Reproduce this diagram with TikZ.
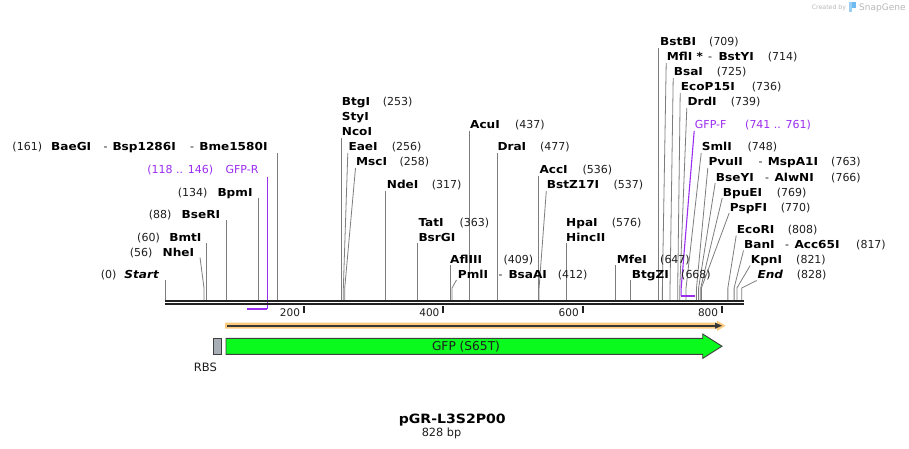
\documentclass[tikz,border=0pt]{standalone}
\usepackage{fontspec}
\setmainfont{DejaVu Sans}
\newfontfamily\wide[FakeStretch=1.1]{DejaVu Sans}
\definecolor{lin}{RGB}{125,125,125}
\definecolor{prm}{RGB}{155,45,240}
\definecolor{gfp}{RGB}{10,250,30}
\definecolor{org}{RGB}{252,202,125}
\definecolor{rbs}{RGB}{168,174,182}
\definecolor{barc}{RGB}{34,34,34}
\definecolor{txt}{RGB}{30,30,30}
\definecolor{sg}{RGB}{185,185,185}
\definecolor{sgb}{RGB}{110,185,240}
\pgfmathdeclarefunction{bp}{1}{\pgfmathparse{165+0.6966*#1}}
\tikzset{
  nm/.style={anchor=base west, inner sep=0pt, text=black, font=\wide\bfseries\fontsize{11}{13}\selectfont},
  nmit/.style={nm, font=\wide\bfseries\itshape\fontsize{11}{13}\selectfont},
  num/.style={anchor=base west, inner sep=0pt, text=txt, font=\fontsize{11}{13}\selectfont},
  pnm/.style={anchor=base west, inner sep=0pt, text=prm, font=\fontsize{11}{13}\selectfont},
  site/.style={draw=lin, line width=0.8pt},
  psite/.style={draw=prm, line width=1.1pt},
  tick/.style={draw=barc, line width=1.8pt},
  ticklab/.style={anchor=base east, inner sep=0pt, text=txt, font=\fontsize{10.5}{12}\selectfont}
}
\begin{document}
\begin{tikzpicture}[x=1pt,y=-1pt]
\useasboundingbox (0,0) rectangle (909,449);
\fill[white] (0,0) rectangle (909,449);

% ---- site lines ----
% left side
\draw[site] ({bp(0)},280) -- ({bp(0)},300.3);
\draw[site] (200,257.5) -- ({bp(56)},288) -- ({bp(56)},300.3);
\draw[site] ({bp(60)},243) -- ({bp(60)},300.3);
\draw[site] ({bp(88)},220) -- ({bp(88)},300.3);
\draw[site] ({bp(134)},198) -- ({bp(134)},300.3);
\draw[site] ({bp(161)},153) -- ({bp(161)},300.3);
% right side
\draw[site] ({bp(253)},138) -- ({bp(253)},300.3);
\draw[site] (347.8,153) -- ({bp(256)},288) -- ({bp(256)},300.3);
\draw[site] (355.5,168) -- ({bp(258)},288) -- ({bp(258)},300.3);
\draw[site] ({bp(317)},191) -- ({bp(317)},300.3);
\draw[site] ({bp(363)},243) -- ({bp(363)},300.3);
\draw[site] ({bp(437)},131) -- ({bp(437)},300.3);
\draw[site] ({bp(477)},153) -- ({bp(477)},300.3);
\draw[site] ({bp(409)},265) -- ({bp(409)},300.3);
\draw[site] (456.5,280) -- ({bp(412)},288) -- ({bp(412)},300.3);
\draw[site] ({bp(536)},176) -- ({bp(536)},300.3);
\draw[site] (546.3,191) -- ({bp(537)},288) -- ({bp(537)},300.3);
\draw[site] ({bp(576)},243) -- ({bp(576)},300.3);
\draw[site] ({bp(647)},265) -- ({bp(647)},300.3);
\draw[site] ({bp(668)},280) -- ({bp(668)},300.3);
\draw[site] ({bp(709)},48) -- ({bp(709)},300.3);
\draw[site] (666.2,63) -- ({bp(714)},288) -- ({bp(714)},300.3);
\draw[site] (673.2,78) -- ({bp(725)},288) -- ({bp(725)},300.3);
\draw[site] (680.2,93) -- ({bp(736)},288) -- ({bp(736)},300.3);
\draw[site] (686.8,108) -- ({bp(739)},288) -- ({bp(739)},300.3);
\draw[site] (701.2,153) -- ({bp(748)},288) -- ({bp(748)},300.3);
\draw[site] (707.8,168) -- ({bp(763)},288) -- ({bp(763)},300.3);
\draw[site] (715.2,183) -- ({bp(766)},288) -- ({bp(766)},300.3);
\draw[site] (722.2,198) -- ({bp(769)},288) -- ({bp(769)},300.3);
\draw[site] (729.2,213) -- ({bp(770)},288) -- ({bp(770)},300.3);
\draw[site] (736.2,235.5) -- ({bp(808)},288) -- ({bp(808)},300.3);
\draw[site] (743.5,250.5) -- ({bp(817)},288) -- ({bp(817)},300.3);
\draw[site] (750.2,265.5) -- ({bp(821)},288) -- ({bp(821)},300.3);
\draw[site] (756.8,280.5) -- ({bp(828)},288) -- ({bp(828)},300.3);

% primers
\draw[psite] (267.3,176.5) -- (267.3,309);
\draw[draw=prm, line width=1.8pt] (247.3,309) -- (267.3,309);
\draw[psite] (694.2,131) -- ({bp(741)},288) -- ({bp(741)},296);
\draw[draw=prm, line width=1.8pt] ({bp(741)-0.6},296) -- ({bp(761)},296);

% ---- sequence bar ----
\draw[draw=barc, line width=1.8pt] (165,300.9) -- (743.5,300.9);
\draw[draw=barc, line width=2pt] (165,304.3) -- (743.5,304.3);

% ticks
\draw[tick] (303.9,305.5) -- (303.9,313);
\draw[tick] (443.3,305.5) -- (443.3,313);
\draw[tick] (582.6,305.5) -- (582.6,313);
\draw[tick] (722,305.5) -- (722,313);
\node[ticklab] (t200) at (300.2,316) {200};
\node[ticklab] (t400) at (439.6,316) {400};
\node[ticklab] (t600) at (578.9,316) {600};
\node[ticklab] (t800) at (718.3,316) {800};

% ---- features ----
\fill[org] (225,322.7) -- (717,322.7) -- (717,320.5) -- (725.5,325.7) -- (717,331) -- (717,328.7) -- (225,328.7) -- cycle;
\draw[draw=barc!90, line width=2pt] (227,325.7) -- (716,325.7);
\fill[barc!90] (715,322.6) -- (722,325.7) -- (715,328.8) -- cycle;

\draw[draw=black!75, line width=0.9pt, fill=gfp] (226,338.3) -- (702.7,338.3) -- (702.7,334) -- (722,346.2) -- (702.7,358.4) -- (702.7,354.3) -- (226,354.3) -- cycle;
\node[inner sep=0pt, anchor=base, text=txt, font=\fontsize{12.2}{14}\selectfont] (gfpl) at (466,350.2) {GFP (S65T)};

\draw[draw=black!75, line width=0.9pt, fill=rbs] (213.3,338.3) rectangle (221.7,354.3);
\node[inner sep=0pt, anchor=base, text=txt, font=\fontsize{11.5}{13}\selectfont] (rbsl) at (205.3,371.5) {RBS};

% ---- left labels ----
\node[num, anchor=base east] (n0) at (116.7,278) {(0)};
\node[nmit, anchor=base east] (Start) at (159,278) {Start};
\node[num, anchor=base east] (n56) at (152.7,256) {(56)};
\node[nm, anchor=base east] (NheI) at (194.3,256) {NheI};
\node[num, anchor=base east] (n60) at (160,241) {(60)};
\node[nm, anchor=base east] (BmtI) at (201.7,241) {BmtI};
\node[num, anchor=base east] (n88) at (171.7,218) {(88)};
\node[nm, anchor=base east] (BseRI) at (220.3,218) {BseRI};
\node[num, anchor=base east] (n134) at (207.7,196) {(134)};
\node[nm, anchor=base east] (BpmI) at (252.7,196) {BpmI};
\node[pnm, anchor=base east] (nGFPR) at (213.3,174) {(118 .. 146)};
\node[pnm, anchor=base east] (GFPR) at (258.7,174) {GFP-R};
\node[num] (n161) at (12.3,151) {(161)};
\node[nm] (BaeGI) at (51,151) {BaeGI};
\node[num] (d161a) at (103.3,151) {-};
\node[nm] (Bsp1286I) at (112.3,151) {Bsp1286I};
\node[num] (d161b) at (190,151) {-};
\node[nm, anchor=base east] (Bme1580I) at (267.7,151) {Bme1580I};

% ---- right labels ----
\node[nm] (BtgI) at (341.7,106) {BtgI};
\node[num] (n253) at (382.7,106) {(253)};
\node[nm] (StyI) at (341.7,121) {StyI};
\node[nm] (NcoI) at (341.7,136) {NcoI};
\node[nm] (EaeI) at (348.3,151) {EaeI};
\node[num] (n256) at (391.7,151) {(256)};
\node[nm] (MscI) at (356,166) {MscI};
\node[num] (n258) at (399.3,166) {(258)};
\node[nm] (NdeI) at (386.7,189) {NdeI};
\node[num] (n317) at (431.7,189) {(317)};
\node[nm] (TatI) at (418.3,226) {TatI};
\node[num] (n363) at (459.3,226) {(363)};
\node[nm] (BsrGI) at (418.3,241) {BsrGI};
\node[nm] (AcuI) at (470,129) {AcuI};
\node[num] (n437) at (515,129) {(437)};
\node[nm] (DraI) at (497.3,151) {DraI};
\node[num] (n477) at (540,151) {(477)};
\node[nm] (AflIII) at (450,263) {AflIII};
\node[num] (n409) at (503.3,263) {(409)};
\node[nm] (PmlI) at (457.7,278) {PmlI};
\node[num] (d412) at (498.3,278) {-};
\node[nm] (BsaAI) at (508.3,278) {BsaAI};
\node[num] (n412) at (557.7,278) {(412)};
\node[nm] (AccI) at (539.3,174) {AccI};
\node[num] (n536) at (582.3,174) {(536)};
\node[nm] (BstZ17I) at (546.7,189) {BstZ17I};
\node[num] (n537) at (613.3,189) {(537)};
\node[nm] (HpaI) at (566,226) {HpaI};
\node[num] (n576) at (611.7,226) {(576)};
\node[nm] (HincII) at (566,241) {HincII};
\node[nm] (MfeI) at (616.7,263) {MfeI};
\node[num] (n647) at (660,263) {(647)};
\node[nm] (BtgZI) at (631.7,278) {BtgZI};
\node[num] (n668) at (681,278) {(668)};
\node[nm] (BstBI) at (660,46) {BstBI};
\node[num] (n709) at (709,46) {(709)};
\node[nm] (MflI) at (666.7,61) {MflI *};
\node[num] (d714) at (708,61) {-};
\node[nm] (BstYI) at (718.3,61) {BstYI};
\node[num] (n714) at (767.7,61) {(714)};
\node[nm] (BsaI) at (673.7,76) {BsaI};
\node[num] (n725) at (716.7,76) {(725)};
\node[nm] (EcoP15I) at (680.7,91) {EcoP15I};
\node[num] (n736) at (751.7,91) {(736)};
\node[nm] (DrdI) at (687.3,106) {DrdI};
\node[num] (n739) at (730.7,106) {(739)};
\node[pnm] (GFPF) at (694.7,129) {GFP-F};
\node[pnm] (nGFPF) at (745,129) {(741 .. 761)};
\node[nm] (SmlI) at (701.7,151) {SmlI};
\node[num] (n748) at (747.3,151) {(748)};
\node[nm] (PvuII) at (708.3,166) {PvuII};
\node[num] (d763) at (758.3,166) {-};
\node[nm] (MspA1I) at (767.7,166) {MspA1I};
\node[num] (n763) at (831,166) {(763)};
\node[nm] (BseYI) at (715.7,181) {BseYI};
\node[num] (d766) at (765,181) {-};
\node[nm] (AlwNI) at (774.3,181) {AlwNI};
\node[num] (n766) at (831,181) {(766)};
\node[nm] (BpuEI) at (722.7,196) {BpuEI};
\node[num] (n769) at (776.7,196) {(769)};
\node[nm] (PspFI) at (729.7,211) {PspFI};
\node[num] (n770) at (780.7,211) {(770)};
\node[nm] (EcoRI) at (736.7,233.5) {EcoRI};
\node[num] (n808) at (787.7,233.5) {(808)};
\node[nm] (BanI) at (744,248.5) {BanI};
\node[num] (d817) at (785,248.5) {-};
\node[nm] (Acc65I) at (794.3,248.5) {Acc65I};
\node[num] (n817) at (856,248.5) {(817)};
\node[nm] (KpnI) at (750.7,263.5) {KpnI};
\node[num] (n821) at (796,263.5) {(821)};
\node[nmit] (End) at (757.3,278.5) {End};
\node[num] (n828) at (796.7,278.5) {(828)};

% ---- title ----
\node[inner sep=0pt, anchor=base, font=\wide\bfseries\fontsize{12.8}{15}\selectfont] (title) at (452.3,423.5) {pGR-L3S2P00};
\node[inner sep=0pt, anchor=base, text=txt, font=\fontsize{11.3}{13}\selectfont] (len) at (441.5,436.7) {828 bp};

% ---- credit ----
\node[inner sep=0pt, anchor=base west, text=sg, font=\fontsize{6.2}{7}\selectfont] (cby) at (811.7,9.6) {Created by};
\fill[sgb!70] (848.5,2.5) rectangle (851.5,12);
\fill[sgb] (852,2.5) rectangle (856,8);
\node[inner sep=0pt, anchor=base west, text=sg, font=\fontsize{9}{10}\selectfont] (sgn) at (859,10.8) {SnapGene};
\end{tikzpicture}
\end{document}
